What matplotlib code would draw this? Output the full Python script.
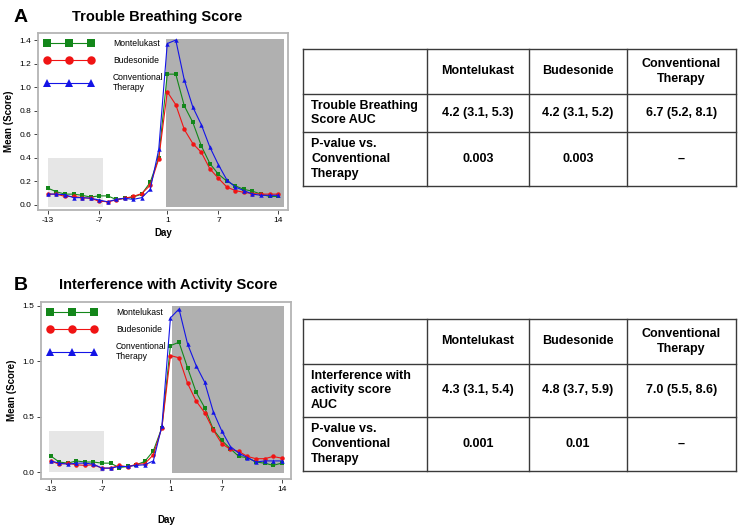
import numpy as np
import matplotlib
matplotlib.use("Agg")
import matplotlib.pyplot as plt
from matplotlib.patches import Rectangle
from matplotlib.lines import Line2D

plt.rcParams["font.family"] = ["Liberation Sans", "DejaVu Sans"]

# ─────────────────────────────────────────────
# DATA
# ─────────────────────────────────────────────
days = list(range(-13, 15))
series_names = ["Montelukast", "Budesonide", "Conventional\nTherapy"]

# panel A : trouble breathing score
breath_montelukast = [0.14, 0.11, 0.09, 0.09, 0.08, 0.065, 0.075, 0.075, 0.045, 0.055, 0.065, 0.09, 0.19, 0.40,
                      1.11, 1.11, 0.84, 0.70, 0.50, 0.35, 0.26, 0.20, 0.16, 0.13, 0.115, 0.09, 0.07, 0.07]
breath_budesonide = [0.09, 0.09, 0.07, 0.07, 0.06, 0.055, 0.03, 0.025, 0.04, 0.055, 0.07, 0.095, 0.165, 0.39,
                     0.96, 0.85, 0.64, 0.52, 0.445, 0.305, 0.225, 0.15, 0.12, 0.105, 0.095, 0.09, 0.09, 0.09]
breath_conventional = [0.09, 0.09, 0.085, 0.06, 0.06, 0.055, 0.04, 0.025, 0.045, 0.055, 0.045, 0.06, 0.13, 0.47,
                       1.37, 1.40, 1.06, 0.83, 0.68, 0.49, 0.34, 0.21, 0.15, 0.12, 0.09, 0.08, 0.08, 0.08]

# panel B : interference with activity score
activity_montelukast = [0.145, 0.09, 0.08, 0.10, 0.09, 0.09, 0.08, 0.08, 0.04, 0.05, 0.065, 0.095, 0.19, 0.40,
                        1.14, 1.17, 0.94, 0.72, 0.58, 0.385, 0.285, 0.21, 0.14, 0.13, 0.09, 0.08, 0.06, 0.08]
activity_budesonide = [0.10, 0.07, 0.08, 0.065, 0.06, 0.065, 0.035, 0.035, 0.06, 0.045, 0.07, 0.075, 0.155, 0.40,
                       1.05, 1.03, 0.80, 0.64, 0.535, 0.38, 0.255, 0.205, 0.185, 0.14, 0.12, 0.12, 0.14, 0.125]
activity_conventional = [0.10, 0.08, 0.07, 0.08, 0.08, 0.07, 0.035, 0.035, 0.05, 0.05, 0.06, 0.065, 0.10, 0.415,
                         1.39, 1.47, 1.155, 0.96, 0.81, 0.545, 0.37, 0.23, 0.17, 0.13, 0.09, 0.10, 0.10, 0.10]

x_ticks = [-13, -7, 1, 7, 14]
yticks_a = [0.0, 0.2, 0.4, 0.6, 0.8, 1.0, 1.2, 1.4]
yticks_b = [0.0, 0.5, 1.0, 1.5]

table_header = ["", "Montelukast", "Budesonide", "Conventional\nTherapy"]
table_a_rows = [
    ["Trouble Breathing\nScore AUC", "4.2 (3.1, 5.3)", "4.2 (3.1, 5.2)", "6.7 (5.2, 8.1)"],
    ["P-value vs.\nConventional\nTherapy", "0.003", "0.003", "\u2013"],
]
table_b_rows = [
    ["Interference with\nactivity score\nAUC", "4.3 (3.1, 5.4)", "4.8 (3.7, 5.9)", "7.0 (5.5, 8.6)"],
    ["P-value vs.\nConventional\nTherapy", "0.001", "0.01", "\u2013"],
]

# ─────────────────────────────────────────────
# STYLE
# ─────────────────────────────────────────────
W, H = 743, 525
COLORS = ["#13871a", "#f01414", "#1414e6"]
MARKERS = ["s", "o", "^"]
FRAME = "#b4b4b4"


def px_box(left, top, right, bottom):
    return [left / W, 1 - bottom / H, (right - left) / W, (bottom - top) / H]


def draw_panel(ax, series, yticks, xlim, ylim, light_box, dark_box):
    ax.add_patch(Rectangle((light_box[0], light_box[1]), light_box[2] - light_box[0],
                           light_box[3] - light_box[1], color="#e6e6e6", lw=0, zorder=0))
    ax.add_patch(Rectangle((dark_box[0], dark_box[1]), dark_box[2] - dark_box[0],
                           dark_box[3] - dark_box[1], color="#b0b0b0", lw=0, zorder=0))
    for vals, name, c, m in zip(series, series_names, COLORS, MARKERS):
        ax.plot(days, vals, color=c, marker=m, markersize=3.2, linewidth=0.8,
                markeredgewidth=0, label=name, zorder=3)
    ax.set_xlim(*xlim)
    ax.set_ylim(*ylim)
    ax.set_xticks(x_ticks)
    ax.set_xticklabels([str(t) for t in x_ticks])
    ax.set_yticks(yticks)
    ax.set_yticklabels([f"{t:.1f}" for t in yticks])
    ax.tick_params(labelsize=6, length=3, width=0.7, color="#444444", pad=2)
    for s in ax.spines.values():
        s.set_color(FRAME)
        s.set_linewidth(1.3)
    ax.set_ylabel("Mean (Score)", fontsize=7, fontweight="bold", labelpad=4)
    ax.legend(loc="upper left", numpoints=3, handlelength=5.8, handletextpad=2.2,
              markerscale=1.9, frameon=False, fontsize=6.2, labelspacing=0.9,
              borderaxespad=0.3, bbox_to_anchor=(0.0, 1.0))


def draw_table(fig, rect, col_px, row_px, rows):
    tab = fig.add_axes(rect)
    tab.set_xlim(col_px[0], col_px[-1])
    tab.set_ylim(row_px[-1], row_px[0])
    tab.axis("off")
    for x in col_px:
        tab.add_line(Line2D([x, x], [row_px[0], row_px[-1]], color="#3a3a3a", lw=1.0, clip_on=False))
    for y in row_px:
        tab.add_line(Line2D([col_px[0], col_px[-1]], [y, y], color="#3a3a3a", lw=1.0, clip_on=False))
    for r, row in enumerate(rows):
        yc = (row_px[r] + row_px[r + 1]) / 2
        for c, txt in enumerate(row):
            if c == 0:
                tab.text(col_px[0] + 8, yc, txt, ha="left", va="center", fontsize=9,
                         fontweight="bold", linespacing=1.3)
            else:
                xc = (col_px[c] + col_px[c + 1]) / 2
                tab.text(xc, yc, txt, ha="center", va="center", fontsize=9,
                         fontweight="bold", linespacing=1.3)


fig = plt.figure(figsize=(W / 100, H / 100), dpi=100)

# panel A
ax_a = fig.add_axes(px_box(38, 33, 288, 210))
draw_panel(ax_a, [breath_montelukast, breath_budesonide, breath_conventional], yticks_a,
           (-14.17, 15.17), (-0.045, 1.46), (-13.05, -0.017, -6.5, 0.40), (0.9, -0.017, 14.74, 1.41))
ax_a.set_xlabel("Day", fontsize=7, fontweight="bold", labelpad=3)
fig.text(14 / W, 1 - 17 / H, "A", fontsize=14, fontweight="bold", va="center")
fig.text(157 / W, 1 - 17 / H, "Trouble Breathing Score", fontsize=10.5, fontweight="bold",
         ha="center", va="center")

# panel B
ax_b = fig.add_axes(px_box(41, 302, 291, 479))
draw_panel(ax_b, [activity_montelukast, activity_budesonide, activity_conventional], yticks_b,
           (-14.13, 15.09), (-0.063, 1.533), (-13.16, 0.0, -6.77, 0.37), (1.19, -0.006, 14.3, 1.494))
ax_b.set_xlabel("Day", fontsize=7, fontweight="bold", labelpad=16)
fig.text(14 / W, 1 - 285 / H, "B", fontsize=14, fontweight="bold", va="center")
fig.text(168 / W, 1 - 285 / H, "Interference with Activity Score", fontsize=10.5, fontweight="bold",
         ha="center", va="center")

# tables
cols = [303, 427, 529, 627, 736]
draw_table(fig, px_box(303, 49, 736, 186), cols, [49, 94, 132, 186], [table_header] + table_a_rows)
draw_table(fig, px_box(303, 319, 736, 471), cols, [319, 364, 417, 471], [table_header] + table_b_rows)

fig.savefig("out.png", dpi=100)
